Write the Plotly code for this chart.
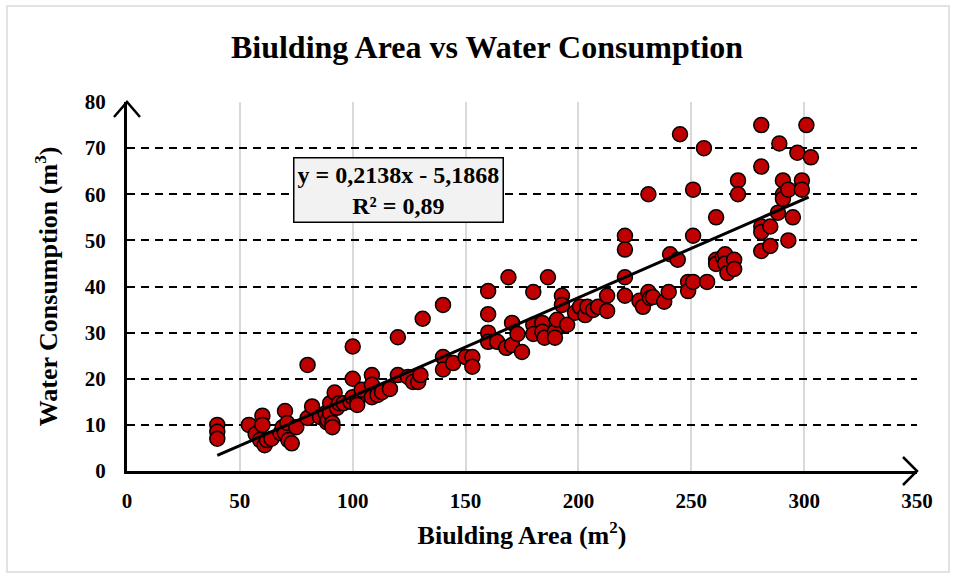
import plotly.graph_objects as go

# Building area (m2) and monthly water consumption (m3) per building
area = [
    40, 40, 40,
    54, 57, 59, 60, 60, 61, 62, 64, 68, 69, 70, 70, 71, 71.5, 73, 75,
    80, 80, 82, 85.5, 88, 88.5, 89, 90, 90, 91, 91, 92, 93, 94, 96, 99, 100, 100, 100, 102, 102,
    104, 108.5, 108.5, 108.5, 111, 113, 116.5, 120, 120, 124.5, 126.7, 129, 130, 131,
    140, 140, 140, 144.5, 150, 153, 153, 160, 160, 160, 160, 164, 168, 169, 170.6, 170.6, 173, 175,
    180, 180, 180, 184, 184, 185, 186.5, 189.6, 189.6, 190.5, 192.7, 192.7, 195, 198.5, 200.7,
    203, 204, 206.5, 208.7, 212.7, 212.7,
    220.6, 220.6, 220.6, 220.6, 227, 228.6, 231, 231, 231.7, 233, 238, 240, 240.6, 244, 245,
    248.6, 248.6, 250.8, 250.8, 250.8, 255.6, 257, 261, 261, 261, 264, 265, 265, 266, 269, 269,
    270.7, 270.7,
    281, 281, 281, 281, 281, 285, 285, 288.4, 289, 290.6, 290.6, 290.6, 293, 293, 295, 297,
    299, 299, 301, 303,
]
consumption = [
    10, 8.5, 7,
    10, 8, 6.7, 12, 10, 5.6, 6.7, 7, 8.2, 9.5, 13, 8.2, 10.4, 6.7, 6, 9.5,
    23, 11.5, 14, 11.7, 12.5, 10.6, 11, 14.7, 12.6, 10.4, 9.5, 17, 13.7, 14.7, 14.7, 15, 27, 20, 16, 15, 14.3,
    17.6, 20.8, 18.7, 16, 16.5, 17.1, 17.8, 29, 20.8, 20.4, 19.3, 19.3, 20.8, 33,
    36, 24.7, 22, 23.4, 24.7, 24.7, 22.6, 39, 34, 30, 28, 28, 26.7, 42, 32.1, 27.3, 29.7, 25.8,
    38.8, 31.7, 29.7, 32.1, 30.2, 28.9, 42, 30.2, 28.9, 32.8, 38, 36, 31.7, 34.3, 35.6,
    33.8, 35.6, 34.9, 35.6, 38, 34.7,
    51, 48, 42, 38, 36.9, 35.6, 60, 38.8, 37.5, 37.7, 36.7, 38.8, 47, 45.8, 73,
    41, 39, 41, 61, 51, 70, 41, 55, 45.8, 44.9, 46.4, 47, 45, 42.9, 45.8, 43.8,
    63, 60,
    75, 66, 53, 51.8, 47.7, 53, 48.8, 56, 71, 63, 60, 59, 61, 50, 55, 69,
    63, 61, 75, 68,
]

# Linear trend fitted to the data
slope = 0.2138
intercept = -5.1868
r_squared = 0.89
trend_x = [40, 302]
trend_y = [slope * v + intercept for v in trend_x]

x_ticks = [0, 50, 100, 150, 200, 250, 300, 350]
y_ticks = [0, 10, 20, 30, 40, 50, 60, 70, 80]

FONT = "Liberation Serif"

fig = go.Figure()
fig.add_trace(go.Scatter(
    x=area, y=consumption, mode="markers",
    marker=dict(size=15, color="#C00000", line=dict(color="black", width=1.5)),
    cliponaxis=False,
))
fig.add_trace(go.Scatter(
    x=trend_x, y=trend_y, mode="lines",
    line=dict(color="black", width=3),
))

eq_text = (f"y = {str(slope).replace('.', ',')}x - {str(-intercept).replace('.', ',')}"
           f"<br>R² = {str(r_squared).replace('.', ',')}")
fig.add_annotation(
    x=120.5, y=61, xref="x", yref="y", text=eq_text, showarrow=False,
    font=dict(family=FONT, size=24, color="black", weight="bold"),
    bgcolor="#F2F2F2", bordercolor="black", borderwidth=1.5, borderpad=3,
    align="center",
)

# Arrow heads at the ends of both axes (paper coordinates)
L, R, T, B = 127, 917, 102, 471
W, H = R - L, B - T
def px(xp):
    return (xp - L) / W
def py(yp):
    return (B - yp) / H

fig.add_shape(type="path", xref="paper", yref="paper",
              path=f"M {px(R-14)} {py(B-14)} L {px(R)} {py(B)} L {px(R-14)} {py(B+14)}",
              line=dict(color="black", width=2.5))
fig.add_shape(type="path", xref="paper", yref="paper",
              path=f"M {px(L-13)} {py(T+15)} L {px(L)} {py(T)} L {px(L+13)} {py(T+15)}",
              line=dict(color="black", width=2.5))
# Outer chart frame
fig.add_shape(type="rect", xref="paper", yref="paper",
              x0=px(7), x1=px(949), y0=py(572), y1=py(6),
              line=dict(color="#D9D9D9", width=1.5), layer="below")

fig.update_layout(
    width=956, height=578,
    margin=dict(l=L, r=956 - R, t=T, b=578 - B),
    paper_bgcolor="white", plot_bgcolor="white",
    showlegend=False,
    title=dict(text="<b>Biulding Area vs Water Consumption</b>",
               x=487 / 956, xref="container", xanchor="center",
               y=1 - 47 / 578, yanchor="middle",
               font=dict(family=FONT, size=32, color="black")),
    font=dict(family=FONT, color="black"),
)
fig.update_xaxes(
    range=[0, 350], tickvals=x_ticks, ticktext=[str(v) for v in x_ticks],
    showgrid=True, gridcolor="#D9D9D9", gridwidth=1.5,
    showline=True, linecolor="black", linewidth=3,
    zeroline=False, ticks="", ticklabelstandoff=9,
    tickfont=dict(family=FONT, size=21, color="black", weight="bold"),
    title=dict(text="<b>Biulding Area (m<sup><span style='font-size:17px'>2</span></sup>)</b>",
               standoff=14, font=dict(family=FONT, size=26, color="black")),
)
fig.update_yaxes(
    range=[0, 80], tickvals=y_ticks, ticktext=[str(v) for v in y_ticks],
    showgrid=True, gridcolor="black", gridwidth=1.8, griddash="8px,6px",
    showline=True, linecolor="black", linewidth=3,
    zeroline=False, ticks="", ticklabelstandoff=14,
    tickfont=dict(family=FONT, size=21, color="black", weight="bold"),
    title=dict(text="<b>Water Consumption (m<sup><span style='font-size:17px'>3</span></sup>)</b>",
               standoff=20, font=dict(family=FONT, size=26, color="black")),
)

fig.write_html("out.html")
